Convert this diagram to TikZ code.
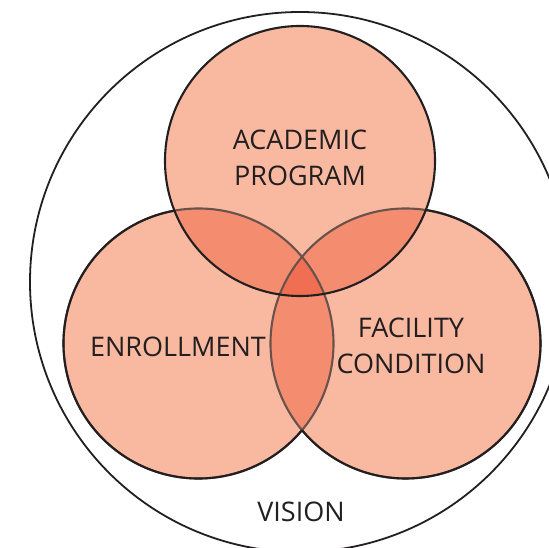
\documentclass[tikz,border=0pt]{standalone}
\usepackage{fontspec}
\setmainfont{Open Sans}
\usepackage{tikz}
\usetikzlibrary{calc}
\definecolor{salmonA}{RGB}{249,185,161}
\definecolor{salmonB}{RGB}{244,141,111}
\definecolor{salmonC}{RGB}{240,111,82}
\definecolor{rimgray}{RGB}{105,82,76}
\definecolor{ink}{RGB}{35,31,32}

\begin{document}
\begin{tikzpicture}[x=1pt,y=1pt,
  rim/.style={draw=ink,line width=2.1pt},
  venntext/.style={font=\fontsize{27}{36}\selectfont,text=ink,align=center,inner sep=0pt}]
  \useasboundingbox (0,0) rectangle (549,548);
  \def\rad{135}
  \coordinate (T) at (300,387);
  \coordinate (L) at (198.5,204.5);
  \coordinate (R) at (405.5,204.5);
  \coordinate (V) at (300,266);
  % outer circle
  \draw[draw=ink,line width=1.8pt] (V) circle (270);
  % single, double and triple regions
  \fill[salmonA] (T) circle (\rad) (L) circle (\rad) (R) circle (\rad);
  \begin{scope}
    \clip (T) circle (\rad);
    \fill[salmonB] (L) circle (\rad) (R) circle (\rad);
  \end{scope}
  \begin{scope}
    \clip (L) circle (\rad);
    \fill[salmonB] (R) circle (\rad);
  \end{scope}
  \begin{scope}
    \clip (T) circle (\rad);
    \clip (L) circle (\rad);
    \fill[salmonC] (R) circle (\rad);
  \end{scope}
  % rims: inner arcs lighter
  \draw[draw=rimgray,line width=2.1pt] (L) circle (\rad) (R) circle (\rad);
  \draw[rim] ($(L)+(100.25:\rad)$) arc[start angle=100.25,end angle=320.05,radius=\rad];
  \draw[rim] ($(R)+(219.95:\rad)$) arc[start angle=219.95,end angle=441.35,radius=\rad];
  \draw[rim] (T) circle (\rad);
  % texts
  \node[venntext,anchor=base] (academic) at (300,362.4) {ACADEMIC\\PROGRAM};
  \node[venntext,anchor=base] (enrollment) at (178,191) {ENROLLMENT};
  \node[venntext,anchor=base] (facility) at (411,174) {FACILITY\\CONDITION};
  \node[venntext,anchor=base] (vision) at (301,26) {VISION};
\end{tikzpicture}
\end{document}
